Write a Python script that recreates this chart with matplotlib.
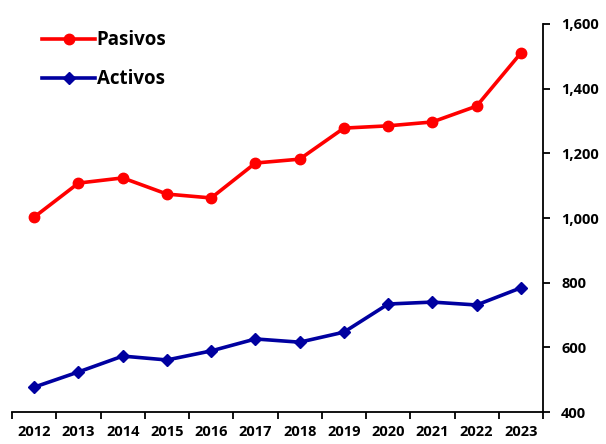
import matplotlib.pyplot as plt
import numpy as np

years = ["2012", "2013", "2014", "2015", "2016", "2017", "2018", "2019", "2020", "2021", "2022", "2023"]
pasivos = [1003, 1108, 1124, 1074, 1062, 1170, 1182, 1278, 1285, 1297, 1346, 1510]
activos = [477, 524, 573, 561, 589, 626, 616, 647, 734, 740, 731, 784]

plt.rcParams['font.family'] = ['Open Sans', 'DejaVu Sans']

fig = plt.figure(figsize=(6.06, 4.44), dpi=100)
ax = fig.add_axes([0.02, 0.072, 0.876, 0.874])

x = np.arange(len(years))
ax.plot(x, pasivos, color='#FF0000', lw=2.6, marker='o', ms=7.5, label='Pasivos')
ax.plot(x, activos, color='#0000A0', lw=2.6, marker='D', ms=6.5, label='Activos')

ax.set_xlim(-0.5, len(years) - 0.5)
ax.set_ylim(400, 1600)
ax.set_yticks(range(400, 1601, 200))
ax.set_yticklabels([f"{v:,}" for v in range(400, 1601, 200)], fontweight='bold', fontsize=10.5)
ax.yaxis.tick_right()
ax.tick_params(axis='y', direction='out', length=5, width=1.3, pad=8)

ax.set_xticks(x)
ax.set_xticklabels(years, fontweight='bold', fontsize=10.5)
ax.set_xticks(np.arange(-0.5, len(years)), minor=True)
ax.tick_params(axis='x', which='major', length=0, pad=9)
ax.tick_params(axis='x', which='minor', direction='out', length=5, width=1.3)

for s in ['top', 'left']:
    ax.spines[s].set_visible(False)
for s in ['bottom', 'right']:
    ax.spines[s].set_linewidth(1.3)

leg = ax.legend(loc='upper left', bbox_to_anchor=(0.025, 1.027), frameon=False,
                prop={'weight': 'bold', 'size': 13.5}, handlelength=2.8,
                labelspacing=1.0, handletextpad=0.1)

fig.savefig("out.png", dpi=100)
